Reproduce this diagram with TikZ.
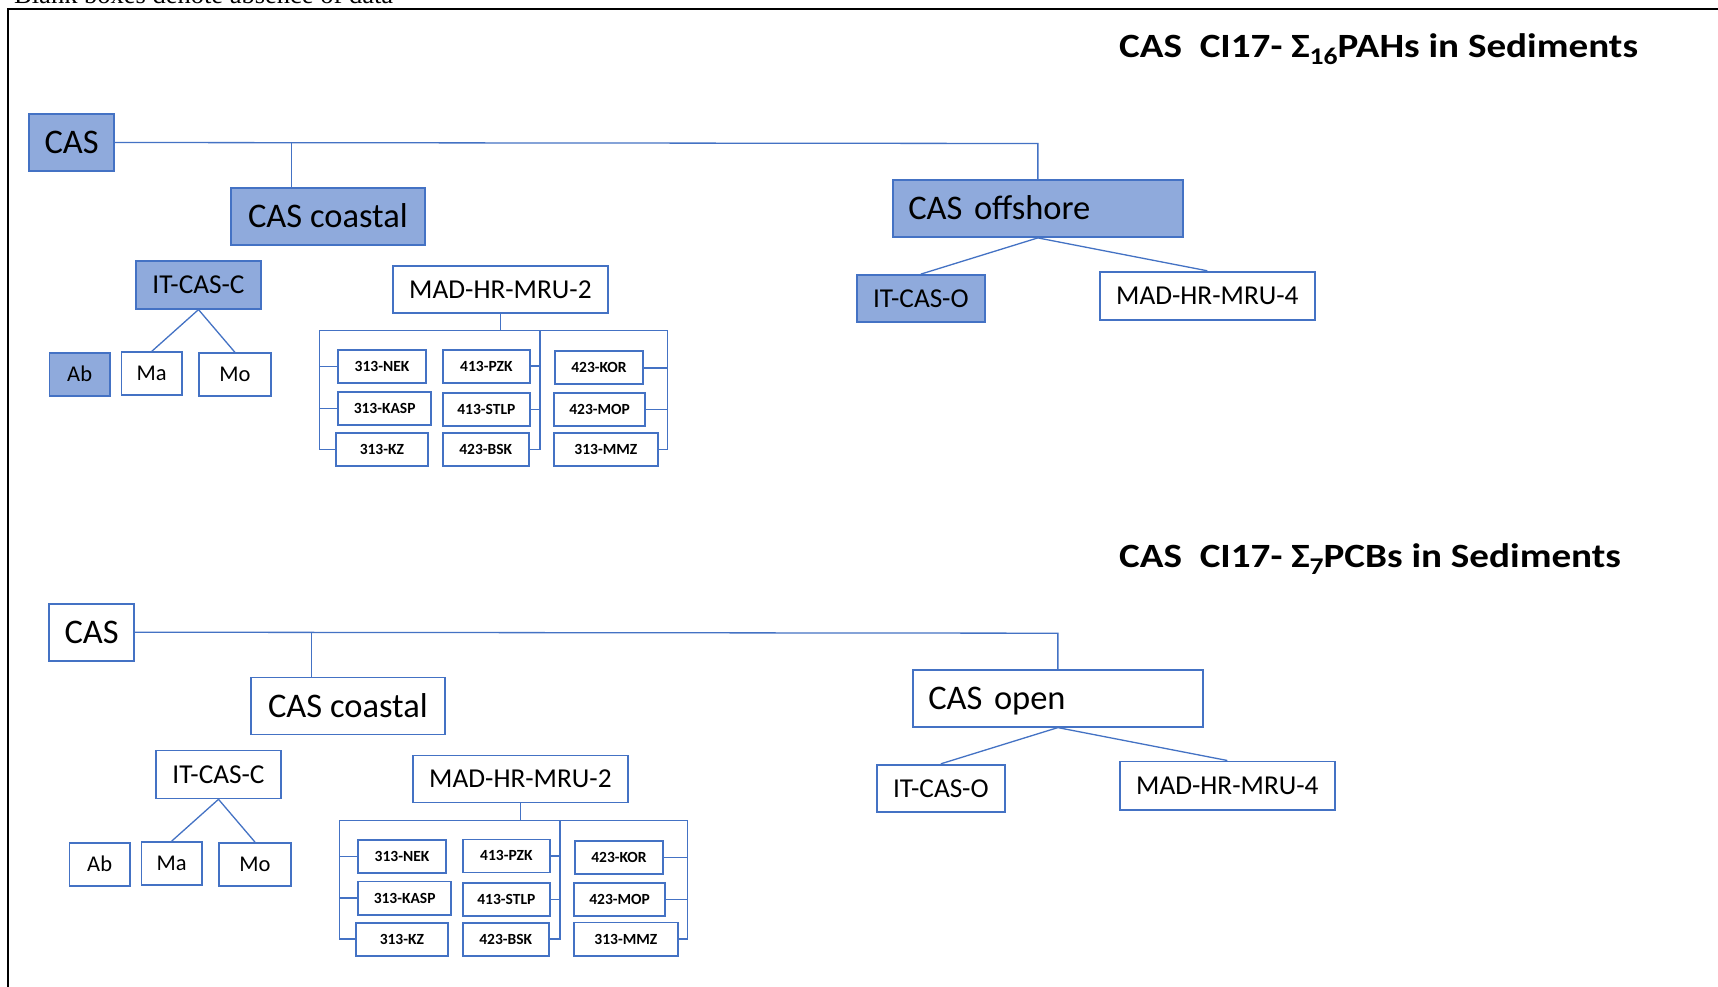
\documentclass[tikz,border=0pt]{standalone}
\usepackage{fontspec}
\setmainfont{Carlito}
\newfontfamily\titlefont{Carlito}[FakeStretch=1.15]
\newfontfamily\blankserif{Liberation Serif}
\definecolor{acc}{HTML}{4472C4}
\definecolor{accfill}{HTML}{8FAADC}
\tikzset{
  box/.style={draw=acc, line width=1.8pt, fill=white, inner sep=0pt, text=black},
  big/.style={box, font=\fontsize{34.5}{40}\selectfont, text height=22.2pt, text depth=0pt},
  mid/.style={box, font=\fontsize{27.3}{32}\selectfont, text height=17.6pt, text depth=0pt},
  lea/.style={box, font=\fontsize{22.5}{27}\selectfont, text height=14.5pt, text depth=0pt},
  sml/.style={box, font=\bfseries\fontsize{15.5}{18}\selectfont, text height=10pt, text depth=0pt},
  conn/.style={draw=acc, line width=1.3pt},
  brk/.style={draw=acc, line width=1.5pt},
  ttl/.style={anchor=base west, inner sep=0pt, font=\titlefont\bfseries\fontsize{34}{40}\selectfont},
}
\newcommand\drawtree[2]{%
  \node[big,hl,minimum width=84.7pt,minimum height=57pt] (#1cas) at (71.65,142.5) {CAS};
  \node[big,hl,minimum width=194.2pt,minimum height=57pt] (#1coast) at (327.9,216.2) {CAS coastal};
  \node[big,hl,text width=259.1pt,align=left,inner xsep=15.6pt,minimum height=57pt] (#1off) at (1037.85,208.5) {#2};
  \node[mid,hl,minimum width=128.3pt,minimum height=47.3pt] (#1itco) at (920.85,298.65) {IT-CAS-O};
  \node[mid,minimum width=214.7pt,minimum height=48.3pt] (#1mrufour) at (1207.35,295.85) {MAD-HR-MRU-4};
  \node[mid,hl,minimum width=125pt,minimum height=48pt] (#1itcc) at (198.5,284.7) {IT-CAS-C};
  \node[mid,minimum width=215.2pt,minimum height=47pt] (#1mrutwo) at (500.4,289.2) {MAD-HR-MRU-2};
  \node[lea,hl,minimum width=60.3pt,minimum height=42.7pt] (#1ab) at (79.65,374.65) {Ab};
  \node[lea,minimum width=60.6pt,minimum height=42.7pt] (#1ma) at (151.7,373.65) {Ma};
  \node[lea,minimum width=72pt,minimum height=42.7pt] (#1mo) at (235,374.65) {Mo};
  \node[sml,minimum width=87.4pt,minimum height=33.3pt] (#1nek) at (382,366.65) {313-NEK};
  \node[sml,minimum width=92.7pt,minimum height=33.3pt] (#1kasp) at (384.65,408.35) {313-KASP};
  \node[sml,minimum width=91.7pt,minimum height=33pt] (#1kz) at (381.85,449.5) {313-KZ};
  \node[sml,minimum width=87.3pt,minimum height=33pt] (#1pzk) at (486.35,366.2) {413-PZK};
  \node[sml,minimum width=87.3pt,minimum height=33.3pt] (#1stlp) at (486.35,409.65) {413-STLP};
  \node[sml,minimum width=86pt,minimum height=33pt] (#1bsk) at (485.7,449.5) {423-BSK};
  \node[sml,minimum width=87.4pt,minimum height=33pt] (#1kor) at (599,367.8) {423-KOR};
  \node[sml,minimum width=91.3pt,minimum height=33.3pt] (#1mop) at (599.65,409.65) {423-MOP};
  \node[sml,minimum width=103.7pt,minimum height=33.3pt] (#1mmz) at (605.85,449.35) {313-MMZ};
  \coordinate (#1j) at (1037.85,143.5);
  \coordinate (#1k) at (291.5,142.8);
  \coordinate (#1bl) at (319.7,330.7);
  \coordinate (#1bm) at (540,330.7);
  \coordinate (#1br) at (667.3,330.7);
  \draw[conn] (#1cas.east) -- (#1j) -- (#1off.north);
  \draw[conn] (#1k) -- (#1k |- #1coast.north);
  \draw[conn] (#1itcc.south) -- (#1ma.north);
  \draw[conn] (#1itcc.south) -- (#1mo.north);
  \draw[conn] (#1off.south) -- (#1itco.north);
  \draw[conn] (#1off.south) -- (#1mrufour.north);
  \draw[brk] (#1mrutwo.south) -- (#1mrutwo.south |- #1bl);
  \draw[brk] (#1kz.west) -| (#1bl) -- (#1br) |- (#1mmz.east);
  \draw[brk] (#1bm) |- (#1bsk.east);
  \draw[brk] (#1nek.west) -- (#1nek.west -| #1bl);
  \draw[brk] (#1kasp.west) -- (#1kasp.west -| #1bl);
  \draw[brk] (#1pzk.east) -- (#1pzk.east -| #1bm);
  \draw[brk] (#1stlp.east) -- (#1stlp.east -| #1bm);
  \draw[brk] (#1kor.east) -- (#1kor.east -| #1br);
  \draw[brk] (#1mop.east) -- (#1mop.east -| #1br);
}
\begin{document}
\begin{tikzpicture}[x=1pt,y=-1pt]
  \useasboundingbox (0,0) rectangle (1718,987);
  \clip (0,0) rectangle (1718,987);
  \fill[white] (0,0) rectangle (1718,987);
  \node[anchor=base west, inner sep=0pt, font=\blankserif\fontsize{26.5}{30}\selectfont] (blank) at (14,4) {Blank boxes denote absence of data};
  \draw[line width=2pt] (8,990) -- (8,9.5) -- (1720,9.5);
  \begin{scope}[hl/.style={fill=accfill}]
    \drawtree{a}{CAS offshore}
  \end{scope}
  \begin{scope}[shift={(20,489.7)}, hl/.style={fill=white}]
    \drawtree{b}{CAS open}
  \end{scope}
  \node[ttl] (titleA) at (1119,57.5) {CAS\ \ CI17- Σ\raisebox{-7pt}{\fontsize{24}{28}\selectfont 16}PAHs in Sediments};
  \node[ttl] (titleB) at (1119,567) {CAS\ \ CI17- Σ\raisebox{-7pt}{\fontsize{24}{28}\selectfont 7}PCBs in Sediments};
\end{tikzpicture}
\end{document}
